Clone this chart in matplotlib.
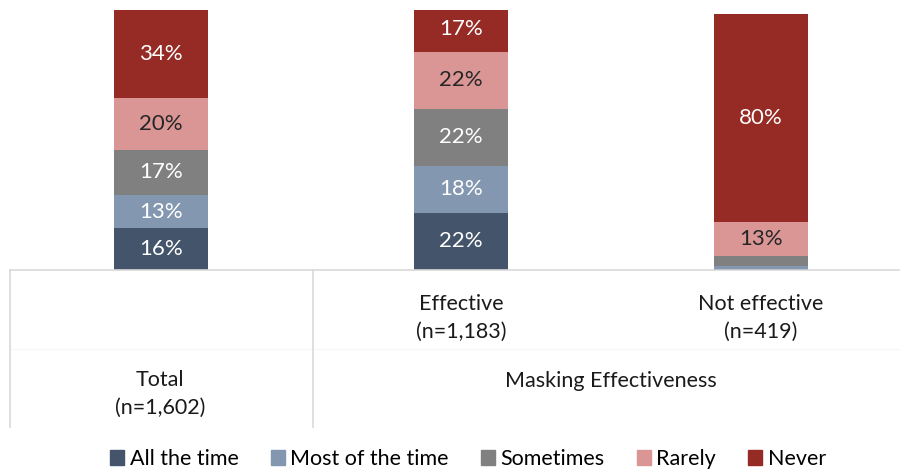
import matplotlib.pyplot as plt
from matplotlib.lines import Line2D

plt.rcParams["font.family"] = ["Lato", "DejaVu Sans"]

groups = ["Total\n(n=1,602)", "Effective\n(n=1,183)", "Not effective\n(n=419)"]
responses = ["All the time", "Most of the time", "Sometimes", "Rarely", "Never"]

all_the_time = [16, 22, 0.5]
most_of_the_time = [13, 18, 1]
sometimes = [17, 22, 4]
rarely = [20, 22, 13]
never = [34, 17, 80]

colors = ["#44546a", "#8497b0", "#808080", "#da9694", "#962a24"]
label_colors = ["white", "white", "white", "#262626", "white"]

series = [all_the_time, most_of_the_time, sometimes, rarely, never]

fig = plt.figure(figsize=(9, 4.7), dpi=100)
W, H = 900, 470
# plot area in pixel terms: baseline at y=270, 100% at y=10
ax = fig.add_axes([11 / W, (H - 270) / H, (900 - 11) / W, 260 / H])
ax.set_xlim(-0.5, (900 - 11) / 300 - 0.5)
ax.set_ylim(0, 100)
ax.axis("off")

x = range(len(groups))
bottom = [0.0] * len(groups)
for vals, col, lcol in zip(series, colors, label_colors):
    ax.bar(x, vals, width=0.313, bottom=bottom, color=col, linewidth=0)
    for i, v in enumerate(vals):
        if v >= 5:
            ax.text(i, bottom[i] + v / 2, f"{v:.0f}%", ha="center", va="center",
                    color=lcol, fontsize=16)
    bottom = [b + v for b, v in zip(bottom, vals)]

# category axis drawn as a table of lines
grid = "#d9d9d9"
fig.add_artist(Line2D([10 / W, 1], [(H - 270) / H] * 2, color=grid, lw=1.2))
fig.add_artist(Line2D([10 / W, 1], [(H - 349) / H] * 2, color="#f7f7f7", lw=1))
for px in (10, 313):
    fig.add_artist(Line2D([px / W] * 2, [(H - 270) / H, (H - 427) / H],
                          color=grid, lw=1.2))

txt = dict(ha="center", va="center", fontsize=15.5, color="#1a1a1a", linespacing=1.45)
fig.text(461 / W, (H - 318) / H, groups[1], **txt)
fig.text(761 / W, (H - 318) / H, groups[2], **txt)
fig.text(160 / W, (H - 394) / H, groups[0], **txt)
fig.text(611 / W, (H - 381) / H, "Masking Effectiveness", **txt)

handles = [plt.Rectangle((0, 0), 1, 1, color=c) for c in colors]
fig.legend(handles, responses, loc="center", bbox_to_anchor=(468 / W, (H - 459) / H),
           ncol=5, frameon=False, fontsize=15.5, handlelength=0.65, handleheight=0.65,
           handletextpad=0.25, columnspacing=1.5)

fig.savefig("out.png", dpi=100)
